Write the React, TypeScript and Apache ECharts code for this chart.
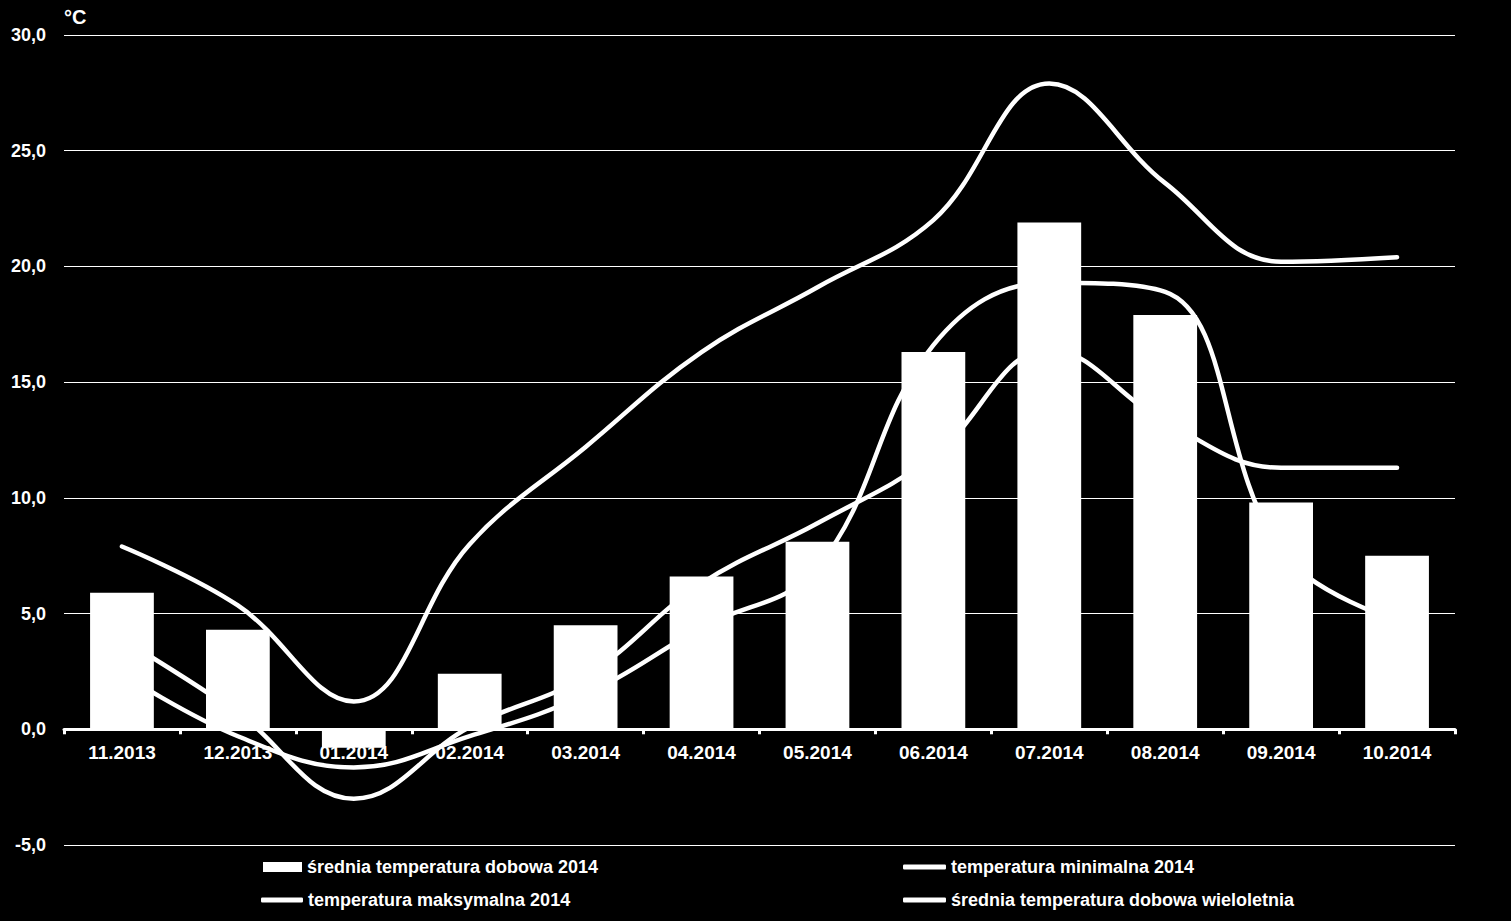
import React, { useEffect, useRef } from 'react';
import * as echarts from 'echarts';

const categories = ['11.2013', '12.2013', '01.2014', '02.2014', '03.2014', '04.2014', '05.2014', '06.2014', '07.2014', '08.2014', '09.2014', '10.2014'];
const avgDaily2014 = [5.9, 4.3, -0.8, 2.4, 4.5, 6.6, 8.1, 16.3, 21.9, 17.9, 9.8, 7.5];
const min2014 = [3.9, 0.7, -3.0, 0.1, 2.3, 6.3, 8.9, 11.8, 16.4, 13.3, 11.3, 11.3];
const max2014 = [7.9, 5.35, 1.2, 8.0, 12.2, 16.3, 19.1, 22.0, 27.9, 23.6, 20.2, 20.4];
const avgLongTerm = [2.4, -0.3, -1.65, -0.3, 1.5, 4.4, 7.0, 16.6, 19.3, 18.9, 7.7, 4.7];

const NAME_BAR = 'średnia temperatura dobowa 2014';
const NAME_MIN = 'temperatura minimalna 2014';
const NAME_MAX = 'temperatura maksymalna 2014';
const NAME_LONG = 'średnia temperatura dobowa wieloletnia';

const Y_MIN = -5;
const Y_MAX = 30;
const Y_STEP = 5;
const UNIT = '°C';

const FONT = 'Arial, "Liberation Sans", sans-serif';

const GRID_TOP = 35;
const GRID_BOTTOM = 76;
const CHART_H = 921;

export default function App() {
  const ref = useRef<HTMLDivElement>(null);
  useEffect(() => {
    if (!ref.current) return;
    const chart = echarts.init(ref.current, null, { renderer: 'svg' });
    const textStyle = { color: '#fff', fontSize: 18, fontWeight: 'bold' as const, fontFamily: FONT };
    const plotH = CHART_H - GRID_TOP - GRID_BOTTOM;
    const zeroOffset = -plotH * (0 - Y_MIN) / (Y_MAX - Y_MIN);
    const lineSeries = (name: string, data: number[]) => ({
      name,
      type: 'line',
      data,
      smooth: 0.4,
      symbol: 'none',
      z: 2,
      lineStyle: { color: '#fff', width: 4.5, cap: 'round' },
      itemStyle: { color: '#fff' },
    });
    const legendBase = {
      orient: 'horizontal',
      padding: 0,
      textStyle,
      itemGap: 0,
    };
    chart.setOption({
      animation: false,
      backgroundColor: '#000',
      textStyle: { fontFamily: FONT },
      grid: {
        left: 64,
        right: 56,
        top: GRID_TOP,
        bottom: GRID_BOTTOM,
        containLabel: false,
        outerBoundsMode: 'none',
      },
      graphic: [
        {
          type: 'text',
          left: 64,
          top: 7,
          style: { text: UNIT, fill: '#fff', font: `bold 20px ${FONT}` },
        },
      ],
      legend: [
        { ...legendBase, left: 263, top: 858, itemWidth: 39, itemHeight: 10, data: [{ name: NAME_BAR, icon: 'rect' }] },
        { ...legendBase, left: 903, top: 858, itemWidth: 43, itemHeight: 5, data: [{ name: NAME_MIN, icon: 'roundRect' }] },
        { ...legendBase, left: 261, top: 891, itemWidth: 42, itemHeight: 5, data: [{ name: NAME_MAX, icon: 'roundRect' }] },
        { ...legendBase, left: 903, top: 891, itemWidth: 43, itemHeight: 5, data: [{ name: NAME_LONG, icon: 'roundRect' }] },
      ],
      xAxis: {
        type: 'category',
        data: categories,
        boundaryGap: true,
        position: 'bottom',
        offset: zeroOffset,
        axisLine: { show: true, onZero: false, lineStyle: { color: '#fff', width: 3 } },
        axisTick: { show: true, length: 5, lineStyle: { color: '#fff', width: 3 } },
        axisLabel: { ...textStyle, fontSize: 19, margin: 14 },
        splitLine: { show: false },
      },
      yAxis: {
        type: 'value',
        min: Y_MIN,
        max: Y_MAX,
        interval: Y_STEP,
        axisLine: { show: false },
        axisTick: { show: false },
        axisLabel: {
          ...textStyle,
          margin: 18,
          formatter: (v: number) => v.toFixed(1).replace('.', ','),
        },
        splitLine: { show: true, lineStyle: { color: '#fff', width: 1 } },
      },
      series: [
        {
          name: NAME_BAR,
          type: 'bar',
          data: avgDaily2014,
          barWidth: '55%',
          z: 3,
          itemStyle: { color: '#fff' },
        },
        lineSeries(NAME_MIN, min2014),
        lineSeries(NAME_MAX, max2014),
        lineSeries(NAME_LONG, avgLongTerm),
      ],
    });
    return () => chart.dispose();
  }, []);
  return (
    <div
      ref={ref}
      style={{ position: 'fixed', left: 0, top: 0, width: 1511, height: 921, background: '#000' }}
    />
  );
}
